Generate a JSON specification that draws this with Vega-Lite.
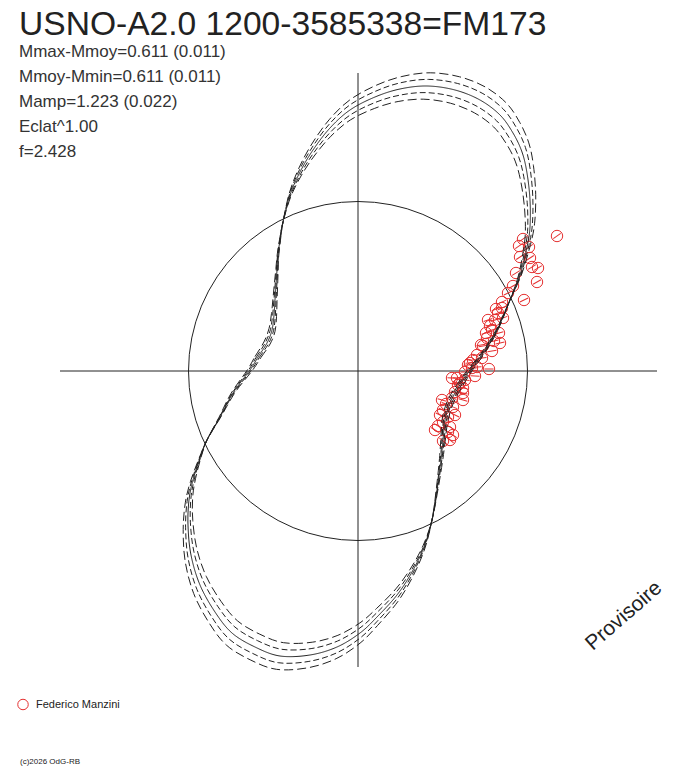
{
  "$schema": "https://vega.github.io/schema/vega-lite/v6.json",
  "width": 688,
  "height": 768,
  "padding": 0,
  "autosize": "none",
  "background": "white",
  "title": {
    "text": "USNO-A2.0 1200-3585338=FM173",
    "subtitle": ["Mmax-Mmoy=0.611 (0.011)", "Mmoy-Mmin=0.611 (0.011)", "Mamp=1.223 (0.022)", "Eclat^1.00", "f=2.428"],
    "orient": "top",
    "anchor": "start",
    "frame": "group",
    "offset": -160,
    "dx": 19,
    "font": "Liberation Sans",
    "fontSize": 33.6,
    "fontWeight": "normal",
    "color": "#222",
    "subtitleFont": "Liberation Sans",
    "subtitleFontSize": 17,
    "subtitleColor": "#333",
    "subtitleLineHeight": 25,
    "subtitlePadding": 2.5
  },
  "datasets": {
    "curves": [
      {"c":"m","i":1,"x":-108,"y":1},{"c":"m","i":2,"x":-100,"y":14},{"c":"m","i":3,"x":-91,"y":28},{"c":"m","i":4,"x":-86,"y":41},{"c":"m","i":5,"x":-84,"y":56},{"c":"m","i":6,"x":-83,"y":71},{"c":"m","i":7,"x":-82,"y":86},{"c":"m","i":8,"x":-81,"y":101},{"c":"m","i":9,"x":-80,"y":116},{"c":"m","i":10,"x":-78,"y":131},
      {"c":"m","i":11,"x":-75,"y":149},{"c":"m","i":12,"x":-68,"y":176},{"c":"m","i":13,"x":-58,"y":199},{"c":"m","i":14,"x":-45,"y":221},{"c":"m","i":15,"x":-28,"y":243},{"c":"m","i":16,"x":-8,"y":261},{"c":"m","i":17,"x":17,"y":274},{"c":"m","i":18,"x":42,"y":282},{"c":"m","i":19,"x":69,"y":285},{"c":"m","i":20,"x":97,"y":281},
      {"c":"m","i":21,"x":122,"y":271},{"c":"m","i":22,"x":142,"y":256},{"c":"m","i":23,"x":155,"y":238},{"c":"m","i":24,"x":164,"y":219},{"c":"m","i":25,"x":169,"y":198},{"c":"m","i":26,"x":172,"y":171},{"c":"m","i":27,"x":172,"y":144},{"c":"m","i":28,"x":169,"y":124},{"c":"m","i":29,"x":162,"y":96},{"c":"m","i":30,"x":152,"y":71},
      {"c":"m","i":31,"x":139,"y":41},{"c":"m","i":32,"x":125,"y":18},{"c":"m","i":33,"x":112,"y":1},{"c":"m","i":34,"x":100,"y":-17},{"c":"m","i":35,"x":92,"y":-32},{"c":"m","i":36,"x":87,"y":-49},{"c":"m","i":37,"x":85,"y":-69},{"c":"m","i":38,"x":83,"y":-89},{"c":"m","i":39,"x":79,"y":-119},{"c":"m","i":40,"x":74,"y":-149},
      {"c":"m","i":41,"x":66,"y":-176},{"c":"m","i":42,"x":54,"y":-201},{"c":"m","i":43,"x":39,"y":-224},{"c":"m","i":44,"x":19,"y":-246},{"c":"m","i":45,"x":2,"y":-262},{"c":"m","i":46,"x":-21,"y":-276},{"c":"m","i":47,"x":-48,"y":-284},{"c":"m","i":48,"x":-78,"y":-285},{"c":"m","i":49,"x":-103,"y":-276},{"c":"m","i":50,"x":-126,"y":-262},
      {"c":"m","i":51,"x":-143,"y":-241},{"c":"m","i":52,"x":-158,"y":-214},{"c":"m","i":53,"x":-167,"y":-184},{"c":"m","i":54,"x":-170,"y":-154},{"c":"m","i":55,"x":-169,"y":-129},{"c":"m","i":56,"x":-165,"y":-109},{"c":"m","i":57,"x":-158,"y":-87},{"c":"m","i":58,"x":-151,"y":-69},{"c":"m","i":59,"x":-138,"y":-46},{"c":"m","i":60,"x":-125,"y":-22},

      {"c":"p1","i":1,"x":-106.6,"y":1},{"c":"p1","i":2,"x":-98.5,"y":13.8},{"c":"p1","i":3,"x":-89.4,"y":27.5},{"c":"p1","i":4,"x":-84.5,"y":40.3},{"c":"p1","i":5,"x":-82.7,"y":55.2},{"c":"p1","i":6,"x":-82,"y":70.1},{"c":"p1","i":7,"x":-81.2,"y":85.2},{"c":"p1","i":8,"x":-80.4,"y":100.3},{"c":"p1","i":9,"x":-79.6,"y":115.5},{"c":"p1","i":10,"x":-77.8,"y":130.7},
      {"c":"p1","i":11,"x":-75,"y":149},{"c":"p1","i":12,"x":-68.4,"y":177},{"c":"p1","i":13,"x":-58.6,"y":201},{"c":"p1","i":14,"x":-45.6,"y":224},{"c":"p1","i":15,"x":-28.5,"y":247.1},{"c":"p1","i":16,"x":-8.2,"y":266},{"c":"p1","i":17,"x":17.4,"y":279.7},{"c":"p1","i":18,"x":42.9,"y":288.3},{"c":"p1","i":19,"x":70.6,"y":291.6},{"c":"p1","i":20,"x":99.3,"y":287.6},
      {"c":"p1","i":21,"x":124.9,"y":277.4},{"c":"p1","i":22,"x":145.3,"y":261.9},{"c":"p1","i":23,"x":158.4,"y":243.3},{"c":"p1","i":24,"x":167.4,"y":223.6},{"c":"p1","i":25,"x":172.2,"y":201.8},{"c":"p1","i":26,"x":174.8,"y":173.8},{"c":"p1","i":27,"x":174.3,"y":145.9},{"c":"p1","i":28,"x":170.8,"y":125.3},{"c":"p1","i":29,"x":162.9,"y":96.5},{"c":"p1","i":30,"x":152,"y":71},
      {"c":"p1","i":31,"x":138.5,"y":40.8},{"c":"p1","i":32,"x":124,"y":17.9},{"c":"p1","i":33,"x":110.7,"y":1},{"c":"p1","i":34,"x":98.5,"y":-16.7},{"c":"p1","i":35,"x":90.5,"y":-31.5},{"c":"p1","i":36,"x":85.7,"y":-48.2},{"c":"p1","i":37,"x":84,"y":-68.2},{"c":"p1","i":38,"x":82.3,"y":-88.2},{"c":"p1","i":39,"x":78.7,"y":-118.5},{"c":"p1","i":40,"x":74,"y":-149},
      {"c":"p1","i":41,"x":66.3,"y":-176.9},{"c":"p1","i":42,"x":54.5,"y":-203},{"c":"p1","i":43,"x":39.5,"y":-227.1},{"c":"p1","i":44,"x":19.3,"y":-250.2},{"c":"p1","i":45,"x":2,"y":-267.1},{"c":"p1","i":46,"x":-21.4,"y":-281.9},{"c":"p1","i":47,"x":-49.1,"y":-290.4},{"c":"p1","i":48,"x":-79.8,"y":-291.7},{"c":"p1","i":49,"x":-105.4,"y":-282.4},{"c":"p1","i":50,"x":-128.9,"y":-268},
      {"c":"p1","i":51,"x":-146.1,"y":-246.2},{"c":"p1","i":52,"x":-161.1,"y":-218.3},{"c":"p1","i":53,"x":-169.9,"y":-187.2},{"c":"p1","i":54,"x":-172.4,"y":-156.2},{"c":"p1","i":55,"x":-170.9,"y":-130.4},{"c":"p1","i":56,"x":-166.3,"y":-109.8},{"c":"p1","i":57,"x":-158.5,"y":-87.3},{"c":"p1","i":58,"x":-151,"y":-69},{"c":"p1","i":59,"x":-137.5,"y":-45.8},{"c":"p1","i":60,"x":-124.1,"y":-21.8},

      {"c":"p2","i":1,"x":-105.3,"y":1},{"c":"p2","i":2,"x":-97,"y":13.6},{"c":"p2","i":3,"x":-87.9,"y":27},{"c":"p2","i":4,"x":-83,"y":39.6},{"c":"p2","i":5,"x":-81.5,"y":54.3},{"c":"p2","i":6,"x":-81,"y":69.3},{"c":"p2","i":7,"x":-80.4,"y":84.4},{"c":"p2","i":8,"x":-79.9,"y":99.6},{"c":"p2","i":9,"x":-79.3,"y":114.9},{"c":"p2","i":10,"x":-77.6,"y":130.3},
      {"c":"p2","i":11,"x":-75,"y":149},{"c":"p2","i":12,"x":-68.7,"y":177.9},{"c":"p2","i":13,"x":-59.1,"y":202.9},{"c":"p2","i":14,"x":-46.2,"y":227},{"c":"p2","i":15,"x":-28.9,"y":251.2},{"c":"p2","i":16,"x":-8.3,"y":271},{"c":"p2","i":17,"x":17.7,"y":285.5},{"c":"p2","i":18,"x":43.9,"y":294.5},{"c":"p2","i":19,"x":72.2,"y":298.2},{"c":"p2","i":20,"x":101.6,"y":294.2},
      {"c":"p2","i":21,"x":127.7,"y":283.8},{"c":"p2","i":22,"x":148.5,"y":267.8},{"c":"p2","i":23,"x":161.8,"y":248.5},{"c":"p2","i":24,"x":170.8,"y":228.1},{"c":"p2","i":25,"x":175.4,"y":205.6},{"c":"p2","i":26,"x":177.7,"y":176.6},{"c":"p2","i":27,"x":176.6,"y":147.8},{"c":"p2","i":28,"x":172.5,"y":126.6},{"c":"p2","i":29,"x":163.7,"y":97},{"c":"p2","i":30,"x":152,"y":71},
      {"c":"p2","i":31,"x":137.9,"y":40.7},{"c":"p2","i":32,"x":123.1,"y":17.7},{"c":"p2","i":33,"x":109.5,"y":1},{"c":"p2","i":34,"x":97,"y":-16.5},{"c":"p2","i":35,"x":89,"y":-31},{"c":"p2","i":36,"x":84.3,"y":-47.5},{"c":"p2","i":37,"x":82.9,"y":-67.3},{"c":"p2","i":38,"x":81.5,"y":-87.4},{"c":"p2","i":39,"x":78.3,"y":-118},{"c":"p2","i":40,"x":74,"y":-149},
      {"c":"p2","i":41,"x":66.7,"y":-177.9},{"c":"p2","i":42,"x":55.1,"y":-205},{"c":"p2","i":43,"x":40.1,"y":-230.2},{"c":"p2","i":44,"x":19.6,"y":-254.4},{"c":"p2","i":45,"x":2.1,"y":-272.1},{"c":"p2","i":46,"x":-21.9,"y":-287.7},{"c":"p2","i":47,"x":-50.2,"y":-296.8},{"c":"p2","i":48,"x":-81.6,"y":-298.3},{"c":"p2","i":49,"x":-107.8,"y":-288.8},{"c":"p2","i":50,"x":-131.7,"y":-274},
      {"c":"p2","i":51,"x":-149.2,"y":-251.4},{"c":"p2","i":52,"x":-164.3,"y":-222.5},{"c":"p2","i":53,"x":-172.8,"y":-190.4},{"c":"p2","i":54,"x":-174.8,"y":-158.4},{"c":"p2","i":55,"x":-172.7,"y":-131.8},{"c":"p2","i":56,"x":-167.6,"y":-110.7},{"c":"p2","i":57,"x":-159,"y":-87.5},{"c":"p2","i":58,"x":-151,"y":-69},{"c":"p2","i":59,"x":-137,"y":-45.7},{"c":"p2","i":60,"x":-123.1,"y":-21.7},

      {"c":"n1","i":1,"x":-109.4,"y":1},{"c":"n1","i":2,"x":-101.5,"y":14.2},{"c":"n1","i":3,"x":-92.6,"y":28.5},{"c":"n1","i":4,"x":-87.5,"y":41.7},{"c":"n1","i":5,"x":-85.3,"y":56.8},{"c":"n1","i":6,"x":-84,"y":71.9},{"c":"n1","i":7,"x":-82.8,"y":86.8},{"c":"n1","i":8,"x":-81.6,"y":101.7},{"c":"n1","i":9,"x":-80.4,"y":116.5},{"c":"n1","i":10,"x":-78.2,"y":131.3},
      {"c":"n1","i":11,"x":-75,"y":149},{"c":"n1","i":12,"x":-67.6,"y":175},{"c":"n1","i":13,"x":-57.4,"y":197},{"c":"n1","i":14,"x":-44.4,"y":218},{"c":"n1","i":15,"x":-27.5,"y":238.9},{"c":"n1","i":16,"x":-7.8,"y":256},{"c":"n1","i":17,"x":16.6,"y":268.3},{"c":"n1","i":18,"x":41.1,"y":275.7},{"c":"n1","i":19,"x":67.4,"y":278.4},{"c":"n1","i":20,"x":94.7,"y":274.4},
      {"c":"n1","i":21,"x":119.1,"y":264.6},{"c":"n1","i":22,"x":138.7,"y":250.1},{"c":"n1","i":23,"x":151.6,"y":232.7},{"c":"n1","i":24,"x":160.6,"y":214.4},{"c":"n1","i":25,"x":165.8,"y":194.2},{"c":"n1","i":26,"x":169.2,"y":168.2},{"c":"n1","i":27,"x":169.7,"y":142.1},{"c":"n1","i":28,"x":167.2,"y":122.7},{"c":"n1","i":29,"x":161.1,"y":95.5},{"c":"n1","i":30,"x":152,"y":71},
      {"c":"n1","i":31,"x":139.5,"y":41.2},{"c":"n1","i":32,"x":126,"y":18.1},{"c":"n1","i":33,"x":113.3,"y":1},{"c":"n1","i":34,"x":101.5,"y":-17.3},{"c":"n1","i":35,"x":93.5,"y":-32.5},{"c":"n1","i":36,"x":88.3,"y":-49.8},{"c":"n1","i":37,"x":86,"y":-69.8},{"c":"n1","i":38,"x":83.7,"y":-89.8},{"c":"n1","i":39,"x":79.3,"y":-119.5},{"c":"n1","i":40,"x":74,"y":-149},
      {"c":"n1","i":41,"x":65.7,"y":-175.1},{"c":"n1","i":42,"x":53.5,"y":-199},{"c":"n1","i":43,"x":38.5,"y":-220.9},{"c":"n1","i":44,"x":18.7,"y":-241.8},{"c":"n1","i":45,"x":2,"y":-256.9},{"c":"n1","i":46,"x":-20.6,"y":-270.1},{"c":"n1","i":47,"x":-46.9,"y":-277.6},{"c":"n1","i":48,"x":-76.2,"y":-278.3},{"c":"n1","i":49,"x":-100.6,"y":-269.6},{"c":"n1","i":50,"x":-123.1,"y":-256},
      {"c":"n1","i":51,"x":-139.9,"y":-235.8},{"c":"n1","i":52,"x":-154.9,"y":-209.7},{"c":"n1","i":53,"x":-164.1,"y":-180.8},{"c":"n1","i":54,"x":-167.6,"y":-151.8},{"c":"n1","i":55,"x":-167.1,"y":-127.6},{"c":"n1","i":56,"x":-163.7,"y":-108.2},{"c":"n1","i":57,"x":-157.5,"y":-86.7},{"c":"n1","i":58,"x":-151,"y":-69},{"c":"n1","i":59,"x":-138.5,"y":-46.2},{"c":"n1","i":60,"x":-125.9,"y":-22.2},

      {"c":"n2","i":1,"x":-110.7,"y":1},{"c":"n2","i":2,"x":-103,"y":14.4},{"c":"n2","i":3,"x":-94.1,"y":29},{"c":"n2","i":4,"x":-89,"y":42.4},{"c":"n2","i":5,"x":-86.5,"y":57.7},{"c":"n2","i":6,"x":-85,"y":72.7},{"c":"n2","i":7,"x":-83.6,"y":87.6},{"c":"n2","i":8,"x":-82.1,"y":102.4},{"c":"n2","i":9,"x":-80.7,"y":117.1},{"c":"n2","i":10,"x":-78.4,"y":131.7},
      {"c":"n2","i":11,"x":-75,"y":149},{"c":"n2","i":12,"x":-67.3,"y":174.1},{"c":"n2","i":13,"x":-56.9,"y":195.1},{"c":"n2","i":14,"x":-43.8,"y":215},{"c":"n2","i":15,"x":-27.1,"y":234.8},{"c":"n2","i":16,"x":-7.7,"y":251},{"c":"n2","i":17,"x":16.3,"y":262.5},{"c":"n2","i":18,"x":40.1,"y":269.5},{"c":"n2","i":19,"x":65.8,"y":271.8},{"c":"n2","i":20,"x":92.4,"y":267.8},
      {"c":"n2","i":21,"x":116.3,"y":258.2},{"c":"n2","i":22,"x":135.5,"y":244.2},{"c":"n2","i":23,"x":148.2,"y":227.5},{"c":"n2","i":24,"x":157.2,"y":209.9},{"c":"n2","i":25,"x":162.6,"y":190.4},{"c":"n2","i":26,"x":166.3,"y":165.4},{"c":"n2","i":27,"x":167.4,"y":140.2},{"c":"n2","i":28,"x":165.5,"y":121.4},{"c":"n2","i":29,"x":160.3,"y":95},{"c":"n2","i":30,"x":152,"y":71},
      {"c":"n2","i":31,"x":140.1,"y":41.3},{"c":"n2","i":32,"x":126.9,"y":18.3},{"c":"n2","i":33,"x":114.6,"y":1},{"c":"n2","i":34,"x":103,"y":-17.5},{"c":"n2","i":35,"x":95,"y":-33},{"c":"n2","i":36,"x":89.7,"y":-50.5},{"c":"n2","i":37,"x":87.1,"y":-70.7},{"c":"n2","i":38,"x":84.5,"y":-90.6},{"c":"n2","i":39,"x":79.7,"y":-120},{"c":"n2","i":40,"x":74,"y":-149},
      {"c":"n2","i":41,"x":65.3,"y":-174.1},{"c":"n2","i":42,"x":52.9,"y":-197},{"c":"n2","i":43,"x":37.9,"y":-217.8},{"c":"n2","i":44,"x":18.4,"y":-237.6},{"c":"n2","i":45,"x":1.9,"y":-251.9},{"c":"n2","i":46,"x":-20.1,"y":-264.3},{"c":"n2","i":47,"x":-45.8,"y":-271.2},{"c":"n2","i":48,"x":-74.4,"y":-271.7},{"c":"n2","i":49,"x":-98.2,"y":-263.2},{"c":"n2","i":50,"x":-120.3,"y":-250},
      {"c":"n2","i":51,"x":-136.8,"y":-230.6},{"c":"n2","i":52,"x":-151.7,"y":-205.5},{"c":"n2","i":53,"x":-161.2,"y":-177.6},{"c":"n2","i":54,"x":-165.2,"y":-149.6},{"c":"n2","i":55,"x":-165.3,"y":-126.2},{"c":"n2","i":56,"x":-162.4,"y":-107.3},{"c":"n2","i":57,"x":-157,"y":-86.5},{"c":"n2","i":58,"x":-151,"y":-69},{"c":"n2","i":59,"x":-139,"y":-46.3},{"c":"n2","i":60,"x":-126.9,"y":-22.3}
    ],
    "obs": [
      {"x":199,"y":135,"observer":"Federico Manzini"},{"x":165,"y":132,"observer":"Federico Manzini"},{"x":161,"y":125,"observer":"Federico Manzini"},{"x":171,"y":124,"observer":"Federico Manzini"},
      {"x":162,"y":114,"observer":"Federico Manzini"},{"x":172,"y":113,"observer":"Federico Manzini"},{"x":174,"y":104,"observer":"Federico Manzini"},{"x":180,"y":103,"observer":"Federico Manzini"},
      {"x":158,"y":98,"observer":"Federico Manzini"},{"x":179,"y":89,"observer":"Federico Manzini"},{"x":155,"y":85,"observer":"Federico Manzini"},{"x":150,"y":78,"observer":"Federico Manzini"},
      {"x":166,"y":71,"observer":"Federico Manzini"},{"x":144,"y":69,"observer":"Federico Manzini"},{"x":144,"y":63,"observer":"Federico Manzini"},{"x":140,"y":58,"observer":"Federico Manzini"},
      {"x":145,"y":53,"observer":"Federico Manzini"},{"x":137,"y":51,"observer":"Federico Manzini"},{"x":132,"y":45,"observer":"Federico Manzini"},{"x":134,"y":41,"observer":"Federico Manzini"},
      {"x":141,"y":38,"observer":"Federico Manzini"},{"x":142,"y":28,"observer":"Federico Manzini"},{"x":129,"y":33,"observer":"Federico Manzini"},{"x":125,"y":25,"observer":"Federico Manzini"},
      {"x":134,"y":20,"observer":"Federico Manzini"},{"x":119,"y":16,"observer":"Federico Manzini"},{"x":124,"y":13,"observer":"Federico Manzini"},{"x":115,"y":11,"observer":"Federico Manzini"},
      {"x":110,"y":6,"observer":"Federico Manzini"},{"x":119,"y":4,"observer":"Federico Manzini"},{"x":107,"y":-1,"observer":"Federico Manzini"},{"x":117,"y":-5,"observer":"Federico Manzini"},
      {"x":99,"y":-7,"observer":"Federico Manzini"},{"x":131,"y":2,"observer":"Federico Manzini"},{"x":114,"y":3,"observer":"Federico Manzini"},{"x":94,"y":-7,"observer":"Federico Manzini"},
      {"x":107,"y":-9,"observer":"Federico Manzini"},{"x":100,"y":-14,"observer":"Federico Manzini"},{"x":97,"y":-21,"observer":"Federico Manzini"},{"x":105,"y":-17,"observer":"Federico Manzini"},
      {"x":84,"y":-29,"observer":"Federico Manzini"},{"x":105,"y":-29,"observer":"Federico Manzini"},{"x":94,"y":-27,"observer":"Federico Manzini"},{"x":95,"y":-36,"observer":"Federico Manzini"},
      {"x":85,"y":-39,"observer":"Federico Manzini"},{"x":82,"y":-44,"observer":"Federico Manzini"},{"x":90,"y":-46,"observer":"Federico Manzini"},{"x":85,"y":-51,"observer":"Federico Manzini"},
      {"x":77,"y":-59,"observer":"Federico Manzini"},{"x":92,"y":-56,"observer":"Federico Manzini"},{"x":90,"y":-61,"observer":"Federico Manzini"},{"x":95,"y":-64,"observer":"Federico Manzini"},
      {"x":85,"y":-70,"observer":"Federico Manzini"},{"x":92,"y":-69,"observer":"Federico Manzini"},{"x":105,"y":-22,"observer":"Federico Manzini"},{"x":123,"y":26,"observer":"Federico Manzini"},
      {"x":130,"y":51,"observer":"Federico Manzini"},{"x":138,"y":62,"observer":"Federico Manzini"},{"x":128,"y":38,"observer":"Federico Manzini"},{"x":136,"y":30,"observer":"Federico Manzini"},
      {"x":88,"y":-33,"observer":"Federico Manzini"},{"x":102,"y":-12,"observer":"Federico Manzini"},{"x":80,"y":-55,"observer":"Federico Manzini"},{"x":97,"y":-44,"observer":"Federico Manzini"},
      {"x":112,"y":8,"observer":"Federico Manzini"}
    ]
  },
  "layer": [
    {
      "data": {"values": [{"k": 0}]},
      "mark": {"type": "rule", "color": "#222", "strokeWidth": 1},
      "encoding": {
        "x": {"datum": -298, "type": "quantitative", "axis": null, "scale": {"domain": [-358, 330], "nice": false, "zero": false}},
        "x2": {"datum": 299},
        "y": {"datum": 0, "type": "quantitative", "axis": null, "scale": {"domain": [-397, 371], "nice": false, "zero": false}}
      }
    },
    {
      "data": {"values": [{"k": 0}]},
      "mark": {"type": "rule", "color": "#222", "strokeWidth": 1},
      "encoding": {
        "x": {"datum": 0, "type": "quantitative"},
        "y": {"datum": 298, "type": "quantitative"},
        "y2": {"datum": -296}
      }
    },
    {
      "data": {"values": [{"k": 0}]},
      "mark": {"type": "point", "shape": "circle", "size": 114921, "filled": false, "color": "#222", "strokeWidth": 1, "opacity": 1},
      "encoding": {"x": {"datum": 0, "type": "quantitative"}, "y": {"datum": 0, "type": "quantitative"}}
    },
    {
      "data": {"name": "obs"},
      "mark": {"type": "point", "shape": "circle", "filled": false, "size": 130, "strokeWidth": 1, "opacity": 1},
      "encoding": {
        "x": {"field": "x", "type": "quantitative"},
        "y": {"field": "y", "type": "quantitative"},
        "color": {
          "field": "observer",
          "type": "nominal",
          "scale": {"domain": ["Federico Manzini"], "range": ["#e53030"]},
          "legend": {
            "title": null,
            "orient": "none",
            "legendX": 17,
            "legendY": 698.5,
            "symbolSize": 110,
            "symbolStrokeWidth": 1,
            "labelFont": "Liberation Sans",
            "labelFontSize": 11,
            "labelColor": "#222",
            "labelOffset": 7
          }
        }
      }
    },
    {
      "data": {"name": "obs"},
      "mark": {"type": "point", "shape": "M-0.8,0L0.8,0", "filled": false, "size": 130, "strokeWidth": 1, "opacity": 1, "color": "#e53030"},
      "encoding": {
        "x": {"field": "x", "type": "quantitative"},
        "y": {"field": "y", "type": "quantitative"},
        "angle": {"field": "y", "type": "quantitative", "scale": {"domain": [-70, -36, 0, 51, 98, 135], "range": [39.5, 20.8, 0, -20.4, -31.8, -36]}, "legend": null}
      }
    },
    {
      "data": {"name": "curves"},
      "mark": {"type": "line", "interpolate": "cardinal-closed", "color": "#222", "strokeWidth": 1},
      "encoding": {
        "x": {"field": "x", "type": "quantitative"},
        "y": {"field": "y", "type": "quantitative"},
        "strokeDash": {
          "field": "c",
          "type": "nominal",
          "scale": {"domain": ["m", "p1", "n1", "p2", "n2"], "range": [[1, 0], [6, 3], [6, 3], [9, 4], [9, 4]]},
          "legend": null
        },
        "order": {"field": "i", "type": "quantitative"}
      }
    },
    {
      "data": {"values": [{"k": 0}]},
      "mark": {"type": "text", "text": "Provisoire", "font": "Liberation Sans", "fontSize": 21, "angle": -41, "align": "center", "baseline": "middle", "color": "#222"},
      "encoding": {"x": {"datum": 266, "type": "quantitative"}, "y": {"datum": -245, "type": "quantitative"}}
    },
    {
      "data": {"values": [{"k": 0}]},
      "mark": {"type": "text", "text": "(c)2026 OdG-RB", "font": "Liberation Sans", "fontSize": 8, "align": "left", "baseline": "middle", "color": "#222"},
      "encoding": {"x": {"datum": -338, "type": "quantitative"}, "y": {"datum": -391, "type": "quantitative"}}
    }
  ],
  "config": {"view": {"stroke": null}, "font": "Liberation Sans"}
}
